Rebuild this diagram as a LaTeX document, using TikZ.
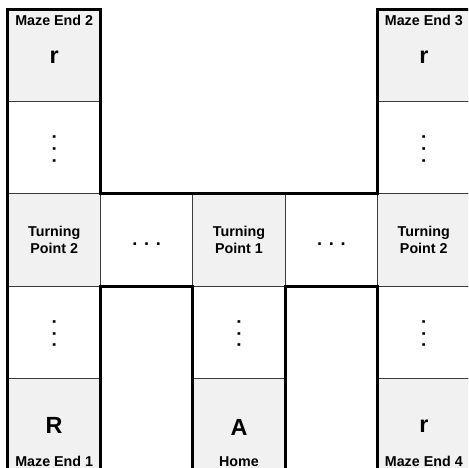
\documentclass[tikz,border=0pt]{standalone}
\usepackage{fontspec}
\setmainfont{Liberation Sans}
\usetikzlibrary{positioning}
\definecolor{roomgray}{RGB}{241,241,241}
\definecolor{gridline}{RGB}{60,60,60}

\begin{document}
\begin{tikzpicture}[
    cell/.style={draw=gridline, line width=0.7pt, minimum size=2.5cm, inner sep=0pt, outer sep=0pt},
    room/.style={cell, fill=roomgray},
    wall/.style={line width=2.3pt},
    tag/.style={font=\fontsize{11}{13}\selectfont\bfseries, align=center, inner sep=0pt},
    letter/.style={font=\fontsize{18}{20}\selectfont\bfseries, inner sep=0pt},
    dots/.style={font=\fontsize{14}{16}\selectfont\bfseries, inner sep=0pt},
    vdots/.style={dots, rotate=90}]
    \useasboundingbox (-0.216,0.082) rectangle (12.446,12.744);
    \clip (-0.216,0.082) rectangle (12.446,12.744);
    % top row
    \node[room] (end2) at (1.25,11.25) {};
    \node[letter] (end2r) at ([yshift=-0.05cm]end2.center) {r};
    \node[tag, below=0.16cm of end2.north] (end2tag) {Maze End 2};
    \node[room] (end3) at (11.25,11.25) {};
    \node[letter] (end3r) at ([yshift=-0.05cm]end3.center) {r};
    \node[tag, below=0.16cm of end3.north] (end3tag) {Maze End 3};
    % corridors
    \node[cell] (lane2) at (1.25,8.75) {};
    \node[vdots] (lane2d) at ([yshift=-0.03cm]lane2.center) {. . .};
    \node[cell] (lane3) at (11.25,8.75) {};
    \node[vdots] (lane3d) at ([yshift=-0.03cm]lane3.center) {. . .};
    \node[cell] (lane1) at (1.25,3.75) {};
    \node[vdots] (lane1d) at ([yshift=-0.03cm]lane1.center) {. . .};
    \node[cell] (laneh) at (6.25,3.75) {};
    \node[vdots] (lanehd) at ([yshift=-0.03cm]laneh.center) {. . .};
    \node[cell] (lane4) at (11.25,3.75) {};
    \node[vdots] (lane4d) at ([yshift=-0.03cm]lane4.center) {. . .};
    % middle row
    \node[room, tag] (turn2l) at (1.25,6.25) {Turning\\Point 2};
    \node[cell] (hall1) at (3.75,6.25) {};
    \node[dots] (hall1d) at ([yshift=-0.1cm]hall1.center) {. . .};
    \node[room, tag] (turn1) at (6.25,6.25) {Turning\\Point 1};
    \node[cell] (hall2) at (8.75,6.25) {};
    \node[dots] (hall2d) at ([yshift=-0.1cm]hall2.center) {. . .};
    \node[room, tag] (turn2r) at (11.25,6.25) {Turning\\Point 2};
    % bottom row
    \node[room] (end1) at (1.25,1.25) {};
    \node[letter] (end1r) at ([yshift=-0.03cm]end1.center) {R};
    \node[tag, above=0.12cm of end1.south] (end1tag) {Maze End 1};
    \node[room] (home) at (6.25,1.25) {};
    \node[letter] (homea) at ([yshift=-0.06cm]home.center) {A};
    \node[tag, above=0.12cm of home.south] (hometag) {Home};
    \node[room] (end4) at (11.25,1.25) {};
    \node[letter] (end4r) at ([yshift=-0.05cm]end4.center) {r};
    \node[tag, above=0.12cm of end4.south] (end4tag) {Maze End 4};
    % walls
    \draw[wall] (0,0) -- (0,12.5) -- (2.5,12.5) -- (2.5,7.5) -- (10,7.5) -- (10,12.5) -- (12.5,12.5) -- (12.5,0) -- cycle;
    \draw[wall] (2.5,0) -- (2.5,5) -- (5,5) -- (5,0);
    \draw[wall] (7.5,0) -- (7.5,5) -- (10,5) -- (10,0);
\end{tikzpicture}
\end{document}
